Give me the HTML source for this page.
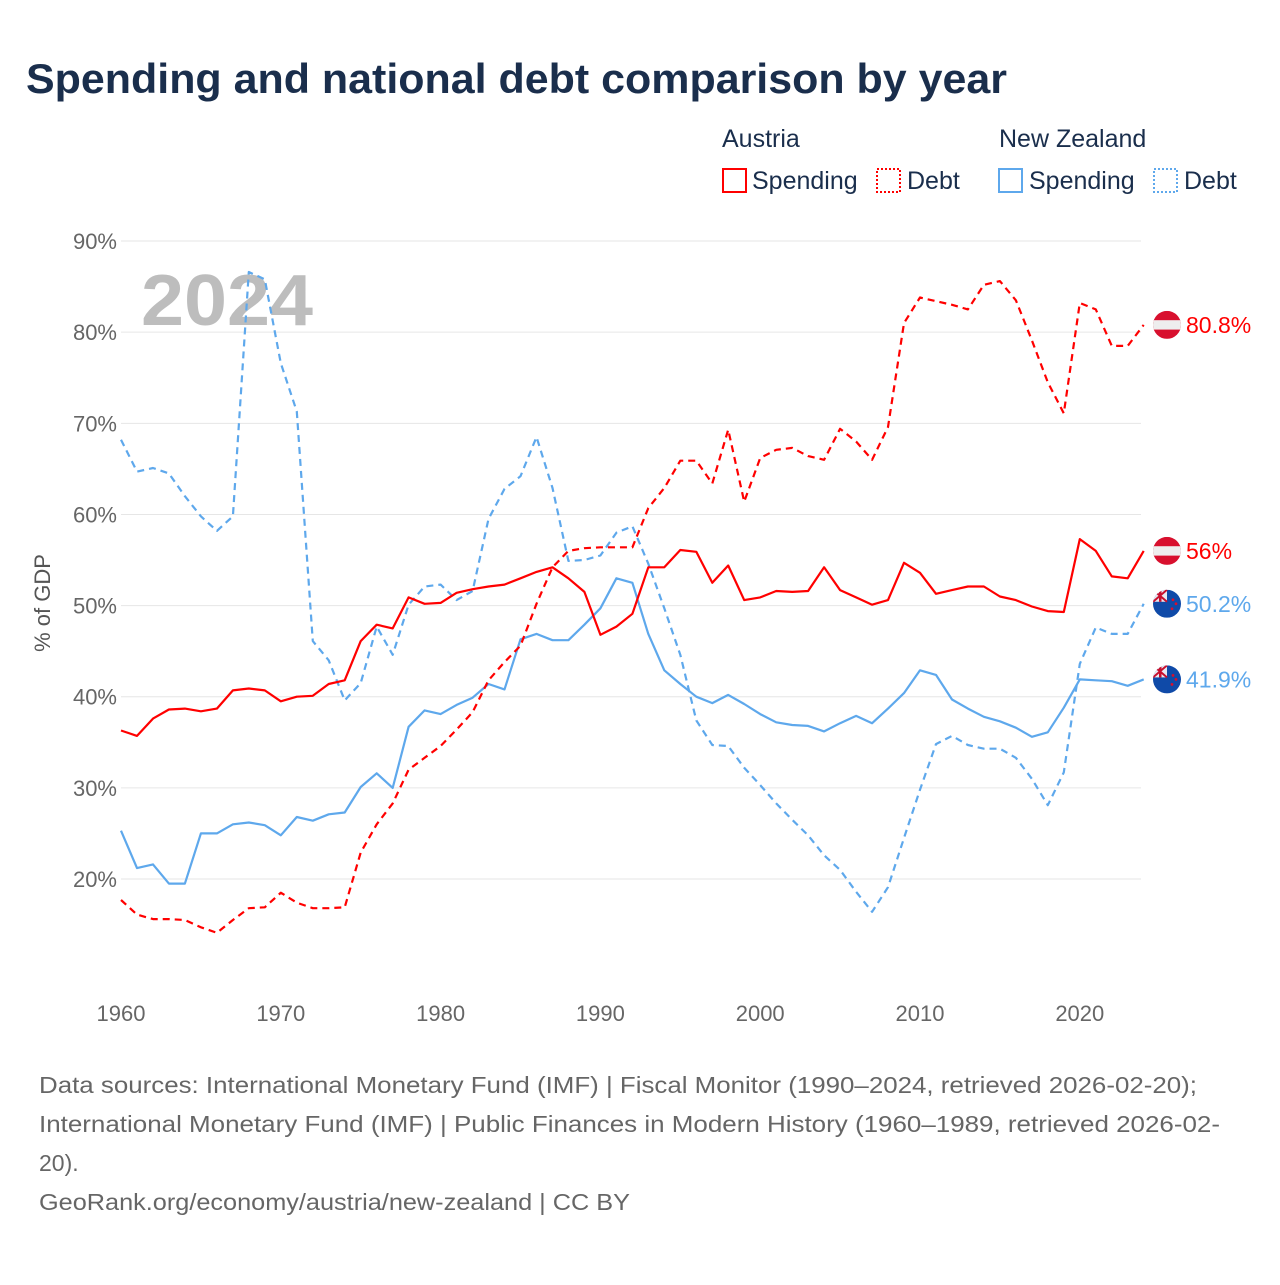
<!DOCTYPE html>
<html><head><meta charset="utf-8">
<style>
body{margin:0;background:#fff;width:1280px;height:1280px;overflow:hidden;font-family:"Liberation Sans",sans-serif}
svg text{font-family:"Liberation Sans",sans-serif}
</style></head>
<body>
<svg id="chart" width="1280" height="1280" xmlns="http://www.w3.org/2000/svg">
<text x="26" y="93" font-size="42" font-weight="bold" fill="#1a2e4c" textLength="981" lengthAdjust="spacingAndGlyphs">Spending and national debt comparison by year</text>
<g font-size="25" fill="#1a2e4c">
<text x="722" y="147" fill="#1a2e4c">Austria</text>
<text x="999" y="147" fill="#1a2e4c">New Zealand</text>
<g><rect x="723" y="169" width="23" height="23" fill="none" stroke="#ff0000" stroke-width="2"/><text x="752" y="189" fill="#1a2e4c">Spending</text></g>
<g><rect x="877" y="169" width="23" height="23" fill="none" stroke="#ff0000" stroke-width="2" stroke-dasharray="2,2"/><text x="907" y="189" fill="#1a2e4c">Debt</text></g>
<g><rect x="999" y="169" width="23" height="23" fill="none" stroke="#5ea8ec" stroke-width="2"/><text x="1029" y="189" fill="#1a2e4c">Spending</text></g>
<g><rect x="1154" y="169" width="23" height="23" fill="none" stroke="#5ea8ec" stroke-width="2" stroke-dasharray="2,2"/><text x="1184" y="189" fill="#1a2e4c">Debt</text></g>
</g>
<g id="grid"></g>
<text x="141" y="325" font-size="72" font-weight="bold" fill="#bdbdbd" textLength="172" lengthAdjust="spacingAndGlyphs">2024</text>
<text transform="translate(50,603) rotate(-90)" text-anchor="middle" font-size="22" fill="#555">% of GDP</text>
<g id="series"></g>
<g id="ends"></g>
<g font-size="23" fill="#666">
<text x="39" y="1093" textLength="1158" lengthAdjust="spacingAndGlyphs">Data sources: International Monetary Fund (IMF) | Fiscal Monitor (1990–2024, retrieved 2026-02-20);</text>
<text x="39" y="1132" textLength="1181" lengthAdjust="spacingAndGlyphs">International Monetary Fund (IMF) | Public Finances in Modern History (1960–1989, retrieved 2026-02-</text>
<text x="39" y="1171">20).</text>
<text x="39" y="1210" textLength="591" lengthAdjust="spacingAndGlyphs">GeoRank.org/economy/austria/new-zealand | CC BY</text>
</g>
</svg>
<script>
const years = Array.from({length:65},(_, i)=>1960+i);
const yTicks = [20,30,40,50,60,70,80,90];
const xTicks = [1960,1970,1980,1990,2000,2010,2020];
const atSpending = [36.3,35.7,37.6,38.6,38.7,38.4,38.7,40.7,40.9,40.7,39.5,40.0,40.1,41.4,41.8,46.1,47.9,47.5,50.9,50.2,50.3,51.4,51.8,52.1,52.3,53.0,53.7,54.2,53.0,51.5,46.8,47.7,49.1,54.2,54.2,56.1,55.9,52.5,54.4,50.6,50.9,51.6,51.5,51.6,54.2,51.7,50.9,50.1,50.6,54.7,53.6,51.3,51.7,52.1,52.1,51.0,50.6,49.9,49.4,49.3,57.3,56.0,53.2,53.0,56.0];
const atDebt = [17.7,16.1,15.6,15.6,15.5,14.7,14.1,15.5,16.8,16.9,18.5,17.4,16.8,16.8,16.9,22.9,26.0,28.3,32.0,33.3,34.6,36.4,38.3,41.8,43.8,45.6,50.2,54.2,56.0,56.3,56.4,56.4,56.4,60.7,62.9,65.9,65.9,63.4,69.3,61.4,66.2,67.1,67.3,66.4,66.0,69.4,68.0,66.0,69.6,81.0,83.8,83.4,83.0,82.5,85.2,85.6,83.5,79.1,74.5,71.1,83.2,82.5,78.5,78.5,80.8];
const nzSpending = [25.3,21.2,21.6,19.5,19.5,25.0,25.0,26.0,26.2,25.9,24.8,26.8,26.4,27.1,27.3,30.1,31.6,30.0,36.7,38.5,38.1,39.1,39.9,41.4,40.8,46.3,46.9,46.2,46.2,47.9,49.7,53.0,52.5,46.9,42.9,41.4,40.0,39.3,40.2,39.2,38.1,37.2,36.9,36.8,36.2,37.1,37.9,37.1,38.7,40.4,42.9,42.4,39.7,38.7,37.8,37.3,36.6,35.6,36.1,38.8,41.9,41.8,41.7,41.2,41.9];
const nzDebt = [68.2,64.7,65.1,64.5,62.0,59.8,58.2,59.8,86.6,85.8,76.6,71.3,46.1,44.0,39.6,41.5,47.7,44.6,50.1,52.1,52.3,50.6,51.6,59.5,62.8,64.2,68.5,62.9,54.9,55.0,55.5,58.0,58.7,54.6,49.7,44.6,37.4,34.7,34.6,32.2,30.3,28.3,26.5,24.8,22.6,21.0,18.6,16.4,19.1,24.5,29.8,34.8,35.7,34.7,34.3,34.3,33.3,31.0,28.1,31.7,43.6,47.6,46.9,46.9,50.2];
const endLabels = ["80.8%","56%","50.2%","41.9%"];

const NS='http://www.w3.org/2000/svg';
const X = y => 121 + (y-1960)*15.98;
const Y = v => 1061.3 - v*9.114;
function mk(tag, attrs, parent){const e=document.createElementNS(NS,tag);for(const k in attrs)e.setAttribute(k,attrs[k]);parent.appendChild(e);return e;}
const grid=document.getElementById('grid');
yTicks.forEach(t=>{
  const l=mk('line',{x1:121,x2:1141,y1:Y(t),y2:Y(t),stroke:'#e6e6e6','stroke-width':1},grid);
  
  
  const tx=mk('text',{x:117,y:Y(t)+8,'text-anchor':'end','font-size':22,fill:'#666'},grid);
  tx.textContent=t+'%';
  
  
});
xTicks.forEach(t=>{
  const tx=mk('text',{x:X(t),y:1021,'text-anchor':'middle','font-size':22,fill:'#666'},grid);
  tx.textContent=t;
  
  
});
const S=document.getElementById('series');
const defs=[
 {d:nzDebt,c:'#5ea8ec',dash:'7,5',n:'line-nz-debt'},
 {d:nzSpending,c:'#5ea8ec',dash:'',n:'line-nz-spending'},
 {d:atDebt,c:'#ff0000',dash:'7,5',n:'line-austria-debt'},
 {d:atSpending,c:'#ff0000',dash:'',n:'line-austria-spending'}];
defs.forEach(s=>{
  const pts=s.d.map((v,i)=>X(years[i]).toFixed(1)+','+Y(v).toFixed(1)).join(' ');
  const p=mk('polyline',{points:pts,fill:'none',stroke:s.c,'stroke-width':2.2,'stroke-linejoin':'round'},S);
  if(s.dash)p.setAttribute('stroke-dasharray',s.dash);
  
  
});
const E=document.getElementById('ends');
const last=years.length-1;
const ends=[{v:atDebt[last],c:'#ff0000',f:'at'},{v:atSpending[last],c:'#ff0000',f:'at'},{v:nzDebt[last],c:'#5ea8ec',f:'nz'},{v:nzSpending[last],c:'#5ea8ec',f:'nz'}];
ends.forEach((e,i)=>{
  const cy=Y(e.v), cx=1167;
  const g=mk('g',{},E);
  
  
  const cid='clip'+i;
  const cp=mk('clipPath',{id:cid},g); mk('circle',{cx:cx,cy:cy,r:14},cp);
  const fg=mk('g',{'clip-path':'url(#'+cid+')'},g);
  if(e.f==='at'){
    mk('rect',{x:cx-14,y:cy-14,width:28,height:28,fill:'#d8102e'},fg);
    mk('rect',{x:cx-14,y:cy-4.7,width:28,height:9.4,fill:'#eeeeee'},fg);
  } else {
    mk('rect',{x:cx-14,y:cy-14,width:28,height:28,fill:'#0f4aa8'},fg);
    mk('rect',{x:cx-14,y:cy-14,width:14,height:12,fill:'#e8e8f0'},fg);
    mk('path',{d:`M${cx-14} ${cy-14}L${cx} ${cy-2}M${cx} ${cy-14}L${cx-14} ${cy-2}`,stroke:'#c8102e','stroke-width':2},fg);
    mk('rect',{x:cx-8,y:cy-14,width:2.5,height:12,fill:'#c8102e'},fg);
    mk('circle',{cx:cx+6,cy:cy-4,r:1.4,fill:'#d8102e'},fg);
    mk('circle',{cx:cx+9,cy:cy,r:1.4,fill:'#d8102e'},fg);
    mk('circle',{cx:cx+5,cy:cy+5,r:1.4,fill:'#d8102e'},fg);
  }
  const t=mk('text',{x:1186,y:cy+8,'font-size':23,fill:e.c},g);
  t.textContent=endLabels[i];
});
</script>
</body></html>
